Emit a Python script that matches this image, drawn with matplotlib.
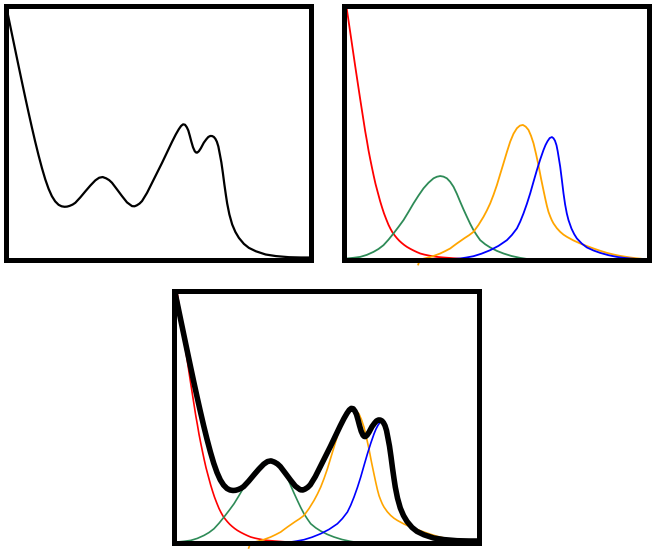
import matplotlib
matplotlib.use('Agg')
import matplotlib.pyplot as plt

# curves (panel units: x 0..305, y 0..253)
black_x = [0, 1.6, 7, 13, 16.5, 19.7, 23, 26.3, 29.6, 33, 36.4, 39.7, 43, 46.3, 49.6, 53,
           56, 59, 61.5, 64, 67, 69.7, 74.7, 79.7, 84.7, 89.7, 93.5, 97, 100.5, 103.5,
           106.3, 111.3, 116.3, 121.3, 126.3, 128.8, 131, 133.8, 136.3, 141.3, 146.3,
           151.3, 156.3, 161.3, 166.3, 170, 173, 175.3, 177.3, 179.2, 181, 182.5, 184,
           185.5, 187.2, 189, 190.2, 191.3, 193, 195, 198, 200.5, 202.5, 204.5, 206.3,
           208, 209.5, 211, 212.5, 214, 215.5, 217, 218.5, 220, 221.3, 223.5, 226.3,
           229.5, 233, 238, 243, 250, 259.7, 270, 283, 295, 305]
black_y = [256, 248.3, 222.2, 193.4, 176.8, 161.8, 146.7, 132, 117.8, 104, 91.2, 80, 70.6,
           63.2, 58, 54.6, 53.1, 52.6, 52.8, 53.5, 54.8, 56.6, 62, 68, 73.8, 79, 81.6,
           82.3, 81, 79.2, 76.6, 70, 63.3, 57, 53.3, 53.1, 54, 55.8, 58.3, 66.5, 76.5,
           86.5, 96.5, 107, 117.5, 124.8, 130, 133.3, 134.9, 134.5, 132, 128.8, 123.5,
           117.8, 112, 108, 106.8, 106.6, 108, 111, 116.6, 120, 122.3, 123.3, 123.2,
           122.3, 120.5, 117.6, 112.8, 105, 97, 86.5, 75, 64.5, 56, 45, 35, 27.5, 21.6,
           15.6, 11.6, 8.2, 5, 3.4, 2.3, 2, 2]

red_x = [0, 3.4, 6.7, 9.2, 11.7, 14.2, 16.7, 19.2, 21.7, 23.4, 25, 26.7, 28.4, 30.2, 32,
         34.4, 36.7, 38.6, 40.5, 42.8, 45, 47, 49, 51.2, 53.4, 55.7, 58, 60.7, 63.4,
         66.7, 70, 73.4, 76.7, 80.8, 85, 89.2, 93.4, 100, 106.7, 113, 120, 130, 140]
red_y = [273, 249.3, 227, 210, 193, 176.5, 160, 144, 128, 118.5, 109, 100.3, 92, 83.5,
         75.5, 66.5, 58, 51.8, 46, 40, 34.6, 30.6, 27, 24, 21.3, 18.8, 16.7, 14.5, 12.6,
         10.7, 9, 7.4, 6, 4.9, 4, 3.2, 2.6, 2, 1.5, 1, 0.6, 0.2, 0]

green_x = [0, 3.4, 10, 16.7, 23.3, 30, 35, 40, 45, 50, 55, 60, 65, 70, 75, 80, 85, 90,
           93.4, 96.7, 100, 103.4, 106.7, 110, 113.4, 116.7, 120, 123.4, 126.7, 130,
           133.4, 136.7, 141.7, 146.7, 153.4, 160, 168, 176.7, 183, 190]
green_y = [0.5, 1, 1.7, 2.6, 4.6, 7.6, 10.5, 14.3, 19.8, 26, 32.5, 39.3, 47.5, 56, 63.8,
           71, 76.6, 81, 82.6, 83.3, 82.7, 81, 77.5, 72.6, 65.5, 57.6, 50, 42.6, 35.6,
           29.3, 24, 19.3, 15.2, 12, 8.6, 6, 3.5, 1.6, 0.6, 0]

orange_x = [74.7, 76, 80, 85, 90, 96.7, 101.7, 106.7, 110, 113.4, 117, 121, 125.5, 130,
            135, 140, 143.4, 146.7, 150, 153.4, 156.7, 160, 163.4, 166.7, 170, 173.4,
            176.4, 179.4, 182.2, 185, 187.5, 190, 192.5, 195, 197.5, 200, 201.7, 203.4,
            205, 206.7, 208.3, 210, 213.3, 216.7, 220, 223.4, 230, 236.7, 243.4, 250,
            256.7, 263.4, 270, 276.7, 286.7, 293, 300]
orange_y = [-5, -1.5, 0.8, 2, 3.5, 6, 8.4, 11, 13.5, 16, 18.5, 21.3, 24.2, 27.6, 34.5,
            42.6, 49, 56, 64.5, 74.3, 85.2, 96, 107.3, 117.6, 125.5, 131, 133.6, 134.3,
            132.6, 129.3, 123.5, 116, 105.5, 94, 81, 69, 61, 53.5, 47.5, 43, 39.2, 36,
            31.3, 27.6, 24.8, 22.6, 19, 16, 13.4, 11, 8.7, 6.6, 5, 3.6, 2, 1.2, 0.5]

blue_x = [100, 108, 116.7, 123, 130, 138, 146.7, 155, 163.4, 168.4, 173.4, 176.7, 180,
          183.4, 186.7, 190, 193.4, 196.7, 200, 202, 204, 206.2, 208.4, 210, 211.5, 213,
          214.2, 215.5, 216.7, 218.3, 220, 221.6, 223.3, 225, 228, 230.7, 233.4, 238.4,
          243.4, 250, 256.7, 265, 273.4, 280, 286.7, 295, 304]
blue_y = [0, 0.5, 1, 2, 3.3, 5.8, 9.3, 13.6, 19.3, 24.5, 31, 37.8, 46, 55.6, 66, 77.6,
          89.3, 99.8, 109.3, 114.2, 118, 121.2, 122.2, 121, 118.5, 114, 108, 100, 92.6,
          80, 66, 55, 46, 39.3, 30.8, 25.3, 21, 15.8, 12, 9, 6.6, 4.3, 2.6, 1.7, 1,
          0.4, 0]


def make_panel(fig, rect):
    ax = fig.add_axes(rect)
    ax.set_xlim(0, 305)
    ax.set_ylim(0, 253)
    ax.set_xticks([])
    ax.set_yticks([])
    for s in ax.spines.values():
        s.set_linewidth(3.6)
        s.set_color('black')
    return ax


def draw_parts(ax, lw):
    ax.plot(red_x, red_y, color='red', lw=lw)
    ax.plot(green_x, green_y, color='seagreen', lw=lw)
    ax.plot(orange_x, orange_y, color='orange', lw=lw, clip_on=False)
    ax.plot(blue_x, blue_y, color='blue', lw=lw)


fig = plt.figure(figsize=(6.53, 5.5), dpi=100)

ax1 = make_panel(fig, [5.5 / 653, 1 - 259.5 / 550, 305.5 / 653, 253.5 / 550])
ax1.plot(black_x, black_y, color='black', lw=1.6)

ax2 = make_panel(fig, [343.5 / 653, 1 - 259.5 / 550, 305 / 653, 253.5 / 550])
draw_parts(ax2, 1.3)

ax3 = make_panel(fig, [174 / 653, 1 - 543 / 550, 305 / 653, 252.5 / 550])
draw_parts(ax3, 1.2)
ax3.plot(black_x, black_y, color='black', lw=4, solid_capstyle='round')

plt.savefig('out.png', dpi=100)
